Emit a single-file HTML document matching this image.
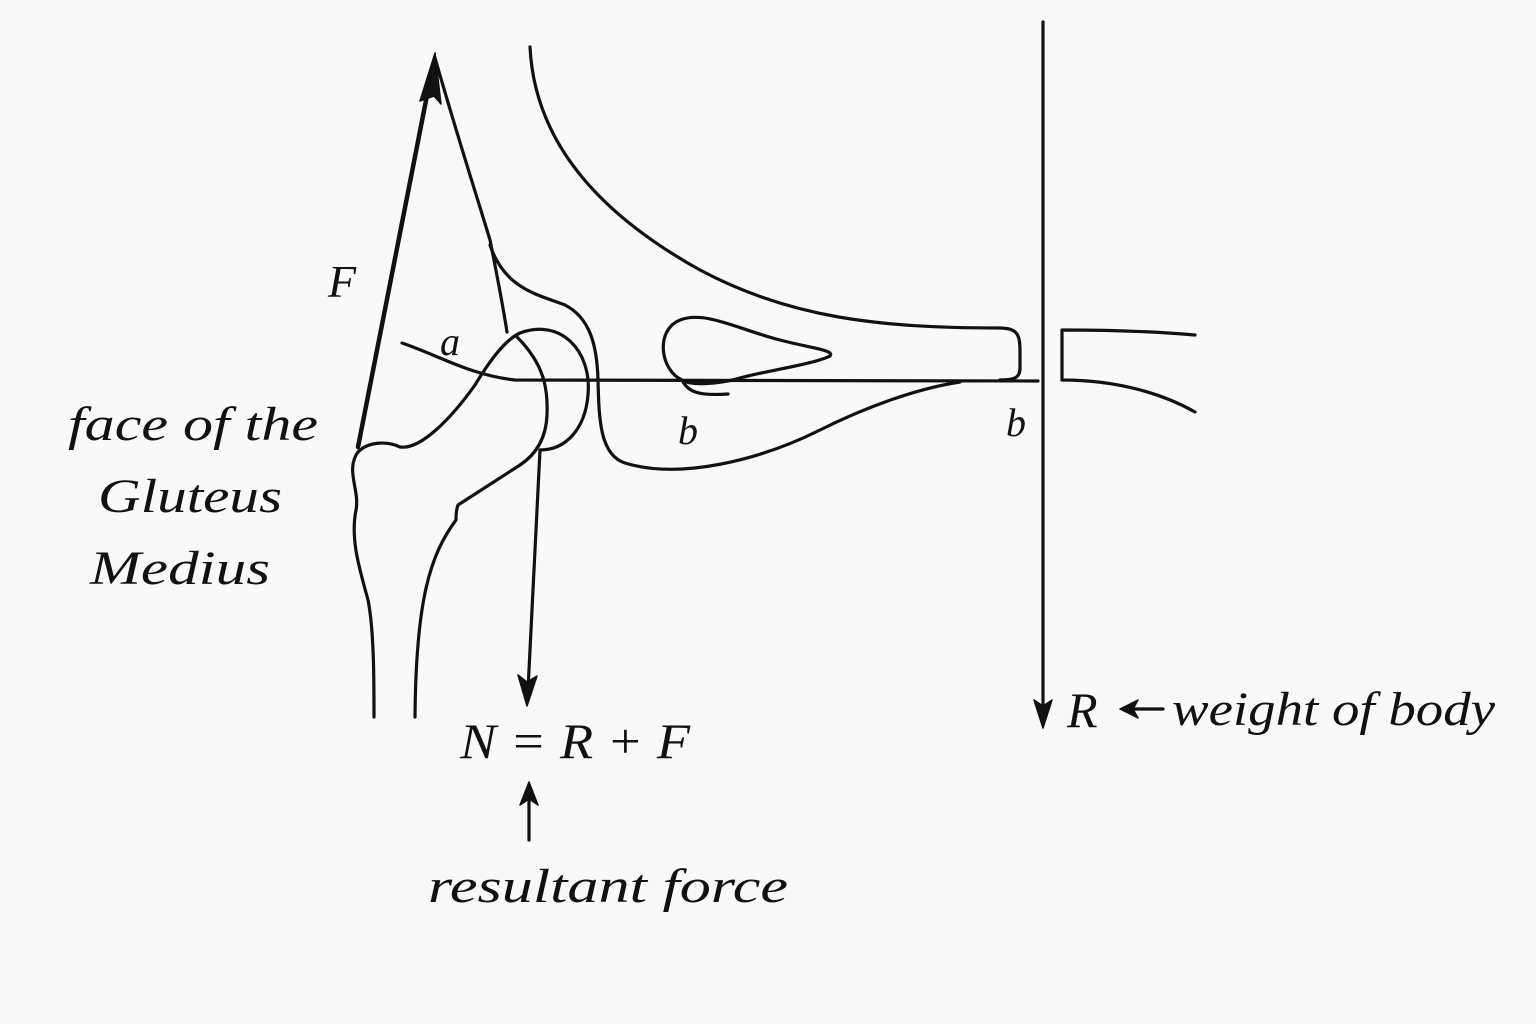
<!DOCTYPE html>
<html><head><meta charset="utf-8"><style>
html,body{margin:0;padding:0;background:#f9f9f9;}
svg{display:block}
text{font-family:"Liberation Serif",serif;font-style:italic;fill:#111;}
</style></head><body>
<svg width="1536" height="1024" viewBox="0 0 1536 1024" xmlns="http://www.w3.org/2000/svg">
<rect width="1536" height="1024" fill="#f9f9f9"/>
<g fill="none" stroke="#111" stroke-width="3.2" stroke-linecap="round" stroke-linejoin="round">
<path d="M358,447 L432,70" stroke-width="4.5"/>
<path d="M435,58 C460,145 478,200 490,240 C496,270 502,300 507,332"/>
<path d="M490,245 C505,290 540,295 565,305 C590,318 597,345 598,380 C599,420 600,455 625,463 C680,480 760,460 820,430 C870,405 920,388 960,382"/>
<path d="M530,47 C535,150 610,220 700,270 C790,318 880,328 1000,328 C1018,328 1020,336 1020,350 L1020,368 C1020,378 1014,380 1000,380"/>
<path d="M682,380 C660,370 655,330 680,320 C705,310 740,330 780,340 C810,348 835,350 830,356 C815,364 760,372 740,378 C720,384 690,386 682,380 C688,392 698,396 728,394"/>
<path d="M402,343 C440,356 470,375 515,380 L1038,381"/>
<path d="M358,452 C370,440 390,442 400,447 C420,450 450,420 475,385 C490,360 505,340 520,333 C560,318 592,350 588,395 C585,430 565,450 540,450"/>
<path d="M517,337 C545,365 548,390 547,415 C546,440 535,455 520,465 L458,505 C456,510 456,515 456,520 C430,555 416,600 415,717"/>
<path d="M358,452 C345,470 360,490 356,510 C350,540 360,570 368,600 C374,630 374,680 374,717"/>
<path d="M540,450 L528,690"/>
<path d="M1043,22 L1043,705"/>
<path d="M1195,335 C1150,331 1100,330 1062,330 L1062,380 C1120,380 1165,395 1195,412"/>
<path d="M529,840 L529,795"/>
<path d="M1163,709 L1133,709"/>
</g>
<g fill="#111" stroke="#111" stroke-width="1.5" stroke-linejoin="round">
<path d="M435,53 L441,104 L434,96 L420,101 Z"/>
<path d="M518,675 L527,706 L537,676 L527,682 Z"/>
<path d="M1034,700 L1043,728 L1052,700 L1043,706 Z"/>
<path d="M520,805 L529,782 L538,805 L529,799 Z"/>
<path d="M1138,700 L1120,709 L1138,718 L1133,709 Z"/>
</g>
<text x="328" y="297" font-size="46">F</text>
<text x="440" y="355" font-size="40">a</text>
<text x="678" y="444" font-size="40">b</text>
<text x="1006" y="436" font-size="40">b</text>
<text x="68" y="440" font-size="48" textLength="250" lengthAdjust="spacingAndGlyphs">face of the</text>
<text x="98" y="512" font-size="48" textLength="184" lengthAdjust="spacingAndGlyphs">Gluteus</text>
<text x="90" y="584" font-size="48" textLength="180" lengthAdjust="spacingAndGlyphs">Medius</text>
<text x="460" y="758" font-size="50" textLength="230" lengthAdjust="spacingAndGlyphs">N = R + F</text>
<text x="1067" y="727" font-size="50">R</text>
<text x="1172" y="725" font-size="48" textLength="323" lengthAdjust="spacingAndGlyphs">weight of body</text>
<text x="428" y="902" font-size="48" textLength="360" lengthAdjust="spacingAndGlyphs">resultant force</text>
</svg>
</body></html>
